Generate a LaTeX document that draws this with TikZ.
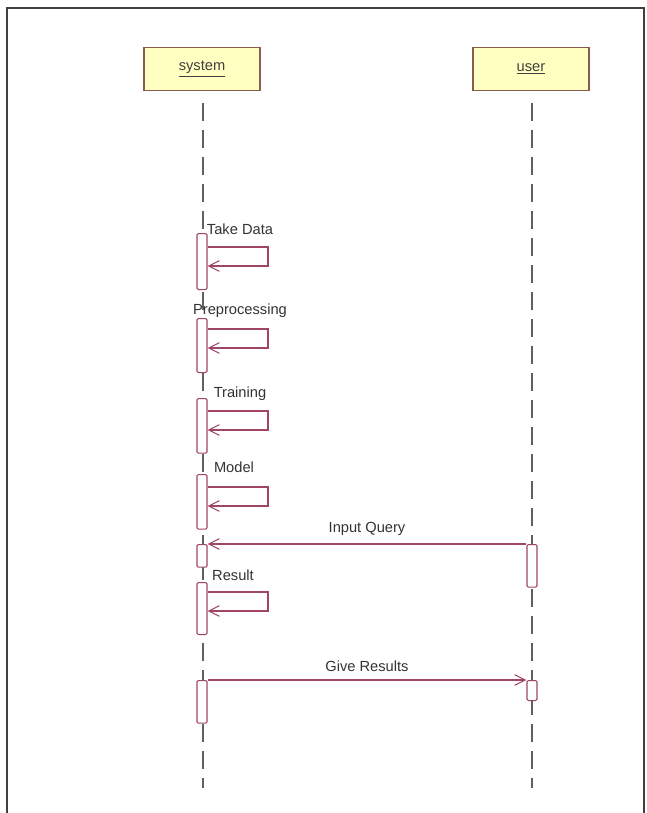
\documentclass[tikz,border=0pt]{standalone}
\usepackage{fontspec}
\setmainfont{Liberation Sans}
\usetikzlibrary{arrows.meta}
\definecolor{boxfill}{HTML}{FFFFC2}
\definecolor{boxline}{HTML}{8A5A4A}
\definecolor{msg}{HTML}{A04468}
\definecolor{life}{HTML}{606060}
\begin{document}
\begin{tikzpicture}[x=0.75pt,y=-0.75pt,
  actor/.style={draw=boxline,fill=boxfill,line width=1pt,minimum width=87pt,minimum height=32pt,inner sep=0pt,font=\fontsize{11}{12}\selectfont,text=black!75},
  lifeline/.style={draw=life,line width=1.3pt,dash pattern=on 13.5pt off 6.75pt},
  actbar/.style={draw=msg,fill=white,line width=0.8pt,rounded corners=1pt},
  message/.style={draw=msg,line width=0.8pt,-{Straight Barb[length=8pt,width=8pt]}},
  lbl/.style={font=\fontsize{11}{12}\selectfont,text=black!80,inner sep=1pt}]
\useasboundingbox (0,0) rectangle (646,813);
\fill[white] (0,0) rectangle (646,813);
% frame
\draw[black!75,line width=1.2pt] (7,813) -- (7,8) -- (644,8) -- (644,813);

% actors
\node[actor] (sys) at (202,69) {\underline{system}};
\node[actor] (usr) at (531,69) {\underline{user}};
\coordinate (sysend) at (203,788);
\coordinate (usrend) at (532,788);
\draw[lifeline] (sys.south -| sysend) ++(0,12) -- (sysend);
\draw[lifeline] (usr.south -| usrend) ++(0,12) -- (usrend);

% system activation bars
\node[actbar,minimum width=7.5pt,minimum height=42pt,anchor=north] (a1) at (202,233) {};
\node[actbar,minimum width=7.5pt,minimum height=40.5pt,anchor=north] (a2) at (202,318) {};
\node[actbar,minimum width=7.5pt,minimum height=41pt,anchor=north] (a3) at (202,398) {};
\node[actbar,minimum width=7.5pt,minimum height=41pt,anchor=north] (a4) at (202,474) {};
\node[actbar,minimum width=7.5pt,minimum height=17pt,anchor=north] (a5) at (202,544) {};
\node[actbar,minimum width=7.5pt,minimum height=39pt,anchor=north] (a6) at (202,582) {};
\node[actbar,minimum width=7.5pt,minimum height=32pt,anchor=north] (a7) at (202,680) {};
% user activation bars
\node[actbar,minimum width=7.5pt,minimum height=32pt,anchor=north] (u1) at (532,544) {};
\node[actbar,minimum width=7.5pt,minimum height=15pt,anchor=north] (u2) at (532,680) {};

% self messages
\foreach \b/\t/\l/\tx/\ty in {a1/247/Take Data/240/229, a2/329/Preprocessing/240/311, a3/411/Training/240/394, a4/487/Model/234/467, a6/592/Result/233/575}{
  \coordinate (\b t) at (\b.east |- 0,\t);
  \coordinate (\b r) at (268,\t);
  \draw[message] (\b t) -- (\b r) -- ++(0,19) -- (\b.east |- 0,{\t+19});
  \node[lbl] at (\tx,\ty) {\l};
}

% Input Query
\draw[message] (u1.north west) -- (a5.north east) node[lbl,pos=0.5,above=5pt] {Input Query};
% Give Results
\draw[message] (a7.north east) -- (u2.north west) node[lbl,pos=0.5,above=5pt] {Give Results};
\end{tikzpicture}
\end{document}
